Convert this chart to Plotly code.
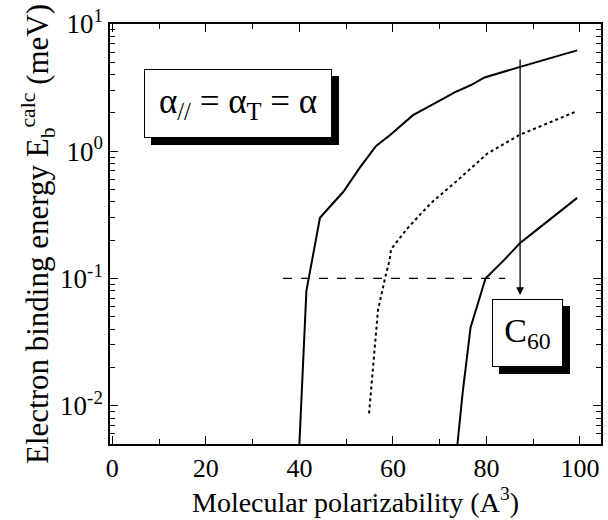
import numpy as np
import plotly.graph_objects as go

# Data
x_upper = [40, 41.5, 44.4, 49.4, 53, 56.4, 59.4, 64.3, 70, 73.2, 76.6, 79.6, 87.2, 99.4]
y_upper = [0.005, 0.08, 0.3, 0.48, 0.75, 1.1, 1.34, 1.92, 2.5, 2.9, 3.3, 3.8, 4.6, 6.2]

x_dotted = [54.9, 56.8, 58.3, 59.3, 59.6, 63.2, 68.1, 73.8, 80.2, 87.0, 99.4]
y_dotted = [0.0087, 0.056, 0.10, 0.14, 0.17, 0.25, 0.39, 0.59, 0.96, 1.34, 2.07]

x_lower = [73.8, 74.9, 76.6, 79.8, 83.8, 87.2, 89.4, 99.4]
y_lower = [0.005, 0.0125, 0.041, 0.10, 0.14, 0.19, 0.22, 0.43]

x_ref = [36.5, 84]
y_ref = [0.1, 0.1]

arrow_x = 87.2
arrow_from = 5.4
arrow_to = 0.074

x_ticks = [0, 20, 40, 60, 80, 100]
x_minor = [10, 30, 50, 70, 90]
y_ticks = [0.01, 0.1, 1, 10]
y_ticktext = ["10<sup>-2</sup>", "10<sup>-1</sup>", "10<sup>0</sup>", "10<sup>1</sup>"]
y_minor = [m * 10.0 ** e for e in [-3, -2, -1, 0] for m in range(2, 10) if 0.005 <= m * 10.0 ** e <= 10]

FONT = "Liberation Serif"

fig = go.Figure()
fig.add_trace(go.Scatter(x=x_upper, y=y_upper, mode="lines",
                         line=dict(color="black", width=2)))
fig.add_trace(go.Scatter(x=x_dotted, y=y_dotted, mode="lines",
                         line=dict(color="black", width=2, dash="dot")))
fig.add_trace(go.Scatter(x=x_lower, y=y_lower, mode="lines",
                         line=dict(color="black", width=2)))
fig.add_trace(go.Scatter(x=x_ref, y=y_ref, mode="lines",
                         line=dict(color="black", width=1.3, dash="dash")))

# arrow
fig.add_annotation(x=arrow_x, y=np.log10(arrow_to), ax=arrow_x, ay=np.log10(arrow_from),
                   xref="x", yref="y", axref="x", ayref="y",
                   showarrow=True, arrowhead=2, arrowsize=1.2, arrowwidth=1.3,
                   arrowcolor="black", text="")

def boxed(text, x, y, w, h, size):
    # shadow box
    fig.add_annotation(x=x, y=y, xref="x", yref="y", text=" ", showarrow=False,
                       font=dict(family=FONT, size=size, color="black"),
                       bgcolor="black", bordercolor="black", borderwidth=1,
                       width=w, height=h, xshift=7, yshift=-7)
    fig.add_annotation(x=x, y=y, xref="x", yref="y", text=text, showarrow=False,
                       font=dict(family=FONT, size=size, color="black"),
                       bgcolor="white", bordercolor="black", borderwidth=1,
                       width=w, height=h)

boxed("α<sub>//</sub> = α<sub>T</sub> = α", 26.8, np.log10(2.37), 184, 65, 35)
boxed("C<sub>60</sub>", 88.8, np.log10(0.037), 67, 64, 34)

fig.update_layout(
    width=608, height=520,
    margin=dict(l=110, r=5, t=24, b=76),
    paper_bgcolor="white", plot_bgcolor="white",
    showlegend=False,
    font=dict(family=FONT, size=25, color="black"),
)
fig.update_xaxes(
    range=[-0.5, 104.5], showgrid=False, zeroline=False,
    showline=True, linecolor="black", linewidth=1.5, mirror="ticks",
    tickmode="array", tickvals=x_ticks, ticks="inside", ticklen=8, tickwidth=1.2,
    tickcolor="black", tickfont=dict(family=FONT, size=26),
    minor=dict(tickmode="array", tickvals=x_minor, ticks="inside", ticklen=5,
               tickwidth=1.2, tickcolor="black"),
    title=dict(text="Molecular polarizability (A<sup>3</sup>)",
               font=dict(family=FONT, size=28), standoff=8),
)
fig.update_yaxes(
    type="log", range=[np.log10(0.005), 1.0], showgrid=False, zeroline=False,
    showline=True, linecolor="black", linewidth=1.5, mirror="ticks",
    tickmode="array", tickvals=y_ticks, ticktext=y_ticktext,
    ticks="inside", ticklen=8, tickwidth=1.2, tickcolor="black",
    tickfont=dict(family=FONT, size=27),
    minor=dict(tickmode="array", tickvals=y_minor, ticks="inside", ticklen=5,
               tickwidth=1.2, tickcolor="black"),
    title=dict(text="Electron binding energy E<sub>b</sub><sup>calc</sup> (meV)",
               font=dict(family=FONT, size=31), standoff=2),
)

fig.write_html("out.html")
